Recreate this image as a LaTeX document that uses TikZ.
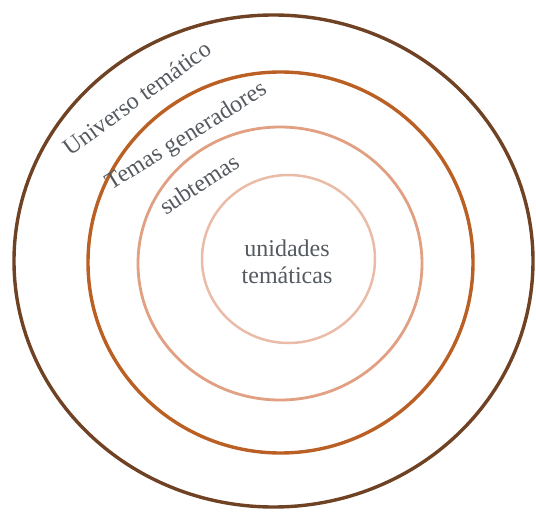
\documentclass[tikz,border=0pt]{standalone}
\usepackage{fontspec}
\setmainfont{Liberation Serif}
\definecolor{ringdark}{RGB}{112,66,36}
\definecolor{ringorange}{RGB}{186,96,36}
\definecolor{ringsalmon}{RGB}{226,160,130}
\definecolor{ringpale}{RGB}{234,188,168}
\definecolor{labelgray}{RGB}{84,90,96}
\usetikzlibrary{shapes.geometric}
\tikzset{
  ring/.style={draw, ellipse, inner sep=0pt},
  ringlabel/.style={text=labelgray, font=\fontsize{24}{27}\selectfont, inner sep=0pt}
}

\begin{document}
\begin{tikzpicture}[x=1pt, y=-1pt]
        \useasboundingbox (0,0) rectangle (536,513);
        \node[ring, ringdark, line width=3.4pt, minimum width=519pt, minimum height=492pt] (universo) at (273.5,261) {};
        \node[ring, ringorange, line width=3.4pt, minimum width=385pt, minimum height=381pt] (generadores) at (280.5,262.5) {};
        \node[ring, ringsalmon, line width=2.8pt, minimum width=284pt, minimum height=273pt] (subtemas) at (280,263.5) {};
        \node[ring, ringpale, line width=2.5pt, minimum width=173pt, minimum height=168pt] (unidades) at (288.5,259) {};
        \node[ringlabel, rotate=36] (universolbl) at (137,98) {Universo temático};
        \node[ringlabel, rotate=32] (generadoreslbl) at (187,137) {Temas generadores};
        \node[ringlabel, rotate=33] (subtemaslbl) at (199,184) {subtemas};
        \node[ringlabel, align=center] (unidadeslbl) at (287,262) {unidades\\temáticas};
      \end{tikzpicture}
\end{document}
